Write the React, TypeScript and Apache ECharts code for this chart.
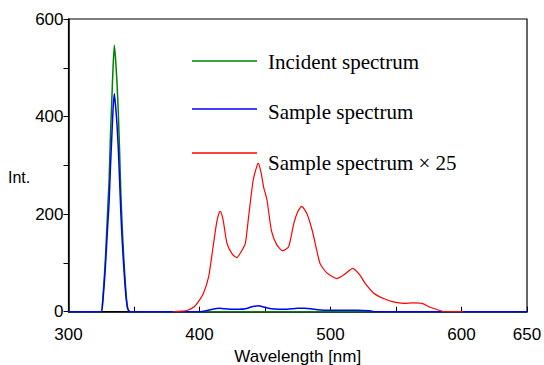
import React, { useEffect, useRef } from "react";
import * as echarts from "echarts";

const incidentWl = [300, 320, 325, 326, 328, 330, 331, 332, 333, 334, 335, 336, 337, 338, 339, 340, 341, 342, 343, 344, 345, 346, 347, 400, 500, 600, 650];
const incidentVal = [0, 0, 0, 20, 100, 215, 270, 360, 430, 500, 546, 515, 470, 410, 330, 240, 175, 120, 75, 35, 10, 2, 0, 0, 0, 0, 0];

const sampleWl = [300, 320, 325, 326, 328, 330, 331, 332, 333, 334, 335, 336, 337, 338, 339, 340, 341, 342, 343, 344, 345, 346, 347, 400, 405, 410, 415, 420, 425, 430, 435, 440, 445, 450, 455, 460, 465, 470, 475, 480, 485, 490, 495, 500, 510, 520, 530, 534, 600, 650];
const sampleVal = [0, 0, 0, 15, 85, 180, 225, 295, 355, 415, 447, 420, 385, 335, 270, 200, 145, 100, 60, 28, 8, 2, 0, 0, 2, 5, 7, 6, 5, 5, 6, 10, 12, 9, 6, 5, 5, 6, 7, 7, 6, 4, 3, 3, 3, 3, 2, 0, 0, 0];

const sample25Wl = [380, 386, 391, 396, 399, 403, 407, 410, 413, 415, 416, 418, 421, 425, 428.5, 432, 435, 437.5, 441, 444, 445, 447, 449, 451.5, 455, 459, 463.5, 468, 472, 475, 478, 482, 486, 489.5, 492, 497, 505, 510, 517, 522.5, 526.5, 533, 540.5, 548, 556, 563, 570, 576, 584, 587, 601];
const sample25Val = [0, 1, 3, 10, 20, 38, 72, 126, 181, 203, 205, 188, 140, 118, 111, 124, 140, 195, 270, 300, 304, 285, 255, 229, 165, 137, 125, 133, 181, 205, 216, 201, 167, 126, 99, 80, 68, 75, 89, 75, 58, 38, 27, 20, 17, 18, 17, 9, 2, 0, 0];

const xLabels = [300, 400, 500, 600, 650];
const yLabels = [0, 200, 400, 600];
const legendNames = ["Incident spectrum", "Sample spectrum", "Sample spectrum \u00d7 25"];
const legendColors = ["#008000", "#0000ff", "#ff0000"];

const zip = (a: number[], b: number[]) => a.map((x, i) => [x, b[i]]);

export default function App() {
  const ref = useRef<HTMLDivElement>(null);
  useEffect(() => {
    if (!ref.current) return;
    const chart = echarts.init(ref.current, null, { renderer: "svg" });
    const lineYs = [61, 109, 153];
    const textYs = [62, 112, 163];
    const graphic: any[] = [];
    legendNames.forEach((n, i) => {
      graphic.push({
        type: "line",
        shape: { x1: 192, y1: lineYs[i], x2: 257, y2: lineYs[i] },
        style: { stroke: legendColors[i], lineWidth: 1.5 },
      });
      graphic.push({
        type: "text",
        x: 268,
        y: textYs[i],
        style: {
          text: n,
          fill: "#000",
          font: '21px "Liberation Serif", "Times New Roman", serif',
          textVerticalAlign: "middle",
          verticalAlign: "middle",
        },
      });
    });
    graphic.push({
      type: "text",
      x: 8,
      y: 177,
      style: {
        text: "Int.",
        fill: "#000",
        font: '16px "Liberation Sans", Arial, sans-serif',
        verticalAlign: "middle",
        textVerticalAlign: "middle",
      },
    });
    chart.setOption({
      animation: false,
      grid: {
        left: 68.5,
        right: 17,
        top: 19,
        bottom: 53.3,
        show: true,
        borderColor: "#000",
        borderWidth: 1.2,
        containLabel: false,
        outerBoundsMode: "none",
      },
      xAxis: {
        type: "value",
        min: 300,
        max: 650,
        interval: 50,
        name: "Wavelength [nm]",
        nameLocation: "middle",
        nameGap: 36,
        nameTextStyle: { fontFamily: "Liberation Sans", fontSize: 17, color: "#000" },
        axisLine: { show: true, lineStyle: { color: "#000", width: 1.5 } },
        axisTick: { show: true, inside: true, length: 5, lineStyle: { color: "#000" } },
        splitLine: { show: false },
        axisLabel: {
          fontFamily: "Liberation Sans",
          fontSize: 17,
          color: "#000",
          margin: 14,
          showMaxLabel: true,
          formatter: (v: number) => (xLabels.includes(v) ? String(v) : ""),
        },
      },
      yAxis: {
        type: "value",
        min: 0,
        max: 600,
        interval: 100,
        axisLine: { show: true, lineStyle: { color: "#000", width: 1.5 } },
        axisTick: { show: true, inside: false, length: 5, lineStyle: { color: "#000" } },
        splitLine: { show: false },
        axisLabel: {
          fontFamily: "Liberation Sans",
          fontSize: 17,
          color: "#000",
          margin: 5,
          formatter: (v: number) => (yLabels.includes(v) ? String(v) : ""),
        },
      },
      graphic,
      series: [
        {
          name: legendNames[0],
          type: "line",
          data: zip(incidentWl, incidentVal),
          showSymbol: false,
          smooth: 0.2,
          lineStyle: { color: legendColors[0], width: 1.5 },
          z: 2,
        },
        {
          name: legendNames[1],
          type: "line",
          data: zip(sampleWl, sampleVal),
          showSymbol: false,
          smooth: 0.2,
          lineStyle: { color: legendColors[1], width: 1.5 },
          z: 3,
        },
        {
          name: legendNames[2],
          type: "line",
          data: zip(sample25Wl, sample25Val),
          showSymbol: false,
          smooth: 0.2,
          lineStyle: { color: legendColors[2], width: 1.2 },
          z: 4,
        },
      ],
    });
    return () => chart.dispose();
  }, []);
  return <div ref={ref} style={{ width: 544, height: 365, position: "absolute", left: 0, top: 0 }} />;
}
